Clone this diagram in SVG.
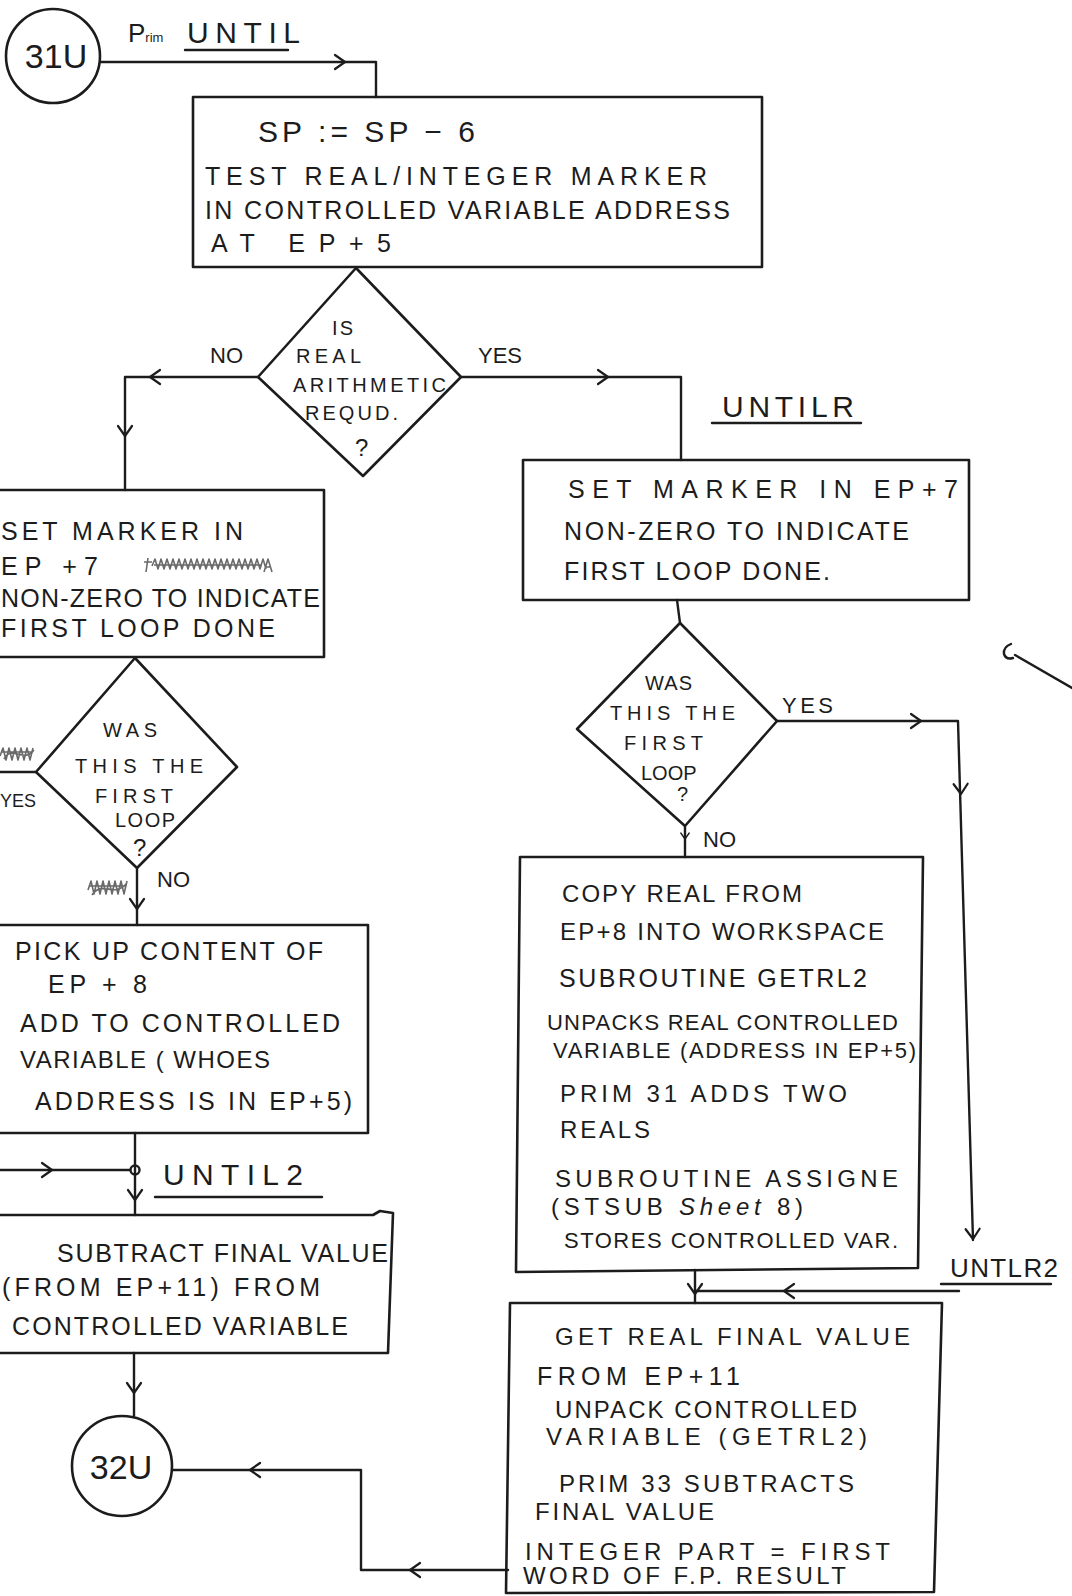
<svg xmlns="http://www.w3.org/2000/svg" xmlns:xlink="http://www.w3.org/1999/xlink" width="1072" height="1596" viewBox="0 0 1072 1596">
<style>
.ln{fill:none;stroke:#1c1c1c;stroke-width:2.4;stroke-linecap:round;stroke-linejoin:round}
.bx{fill:none;stroke:#1c1c1c;stroke-width:2.6;stroke-linejoin:round}
.ah{fill:none;stroke:#1c1c1c;stroke-width:2.2;stroke-linecap:round;stroke-linejoin:round}
.sc{fill:none;stroke:#6a6a6a;stroke-width:1.6;stroke-linejoin:round}
text{font-family:"Liberation Sans",Arial,sans-serif;font-size:25px;fill:#1c1c1c}
.s{font-size:20px}
.m{font-size:22px}
.n{font-size:24px}
.big{font-size:30px}
.c{font-size:34px;text-anchor:middle}
</style>
<defs>
<path id="ah" class="ah" d="M-10,-7 L0,0 L-10,7"/>
</defs>
<rect x="0" y="0" width="1072" height="1596" fill="#ffffff"/>

<g id="connectors">
<path class="ln" d="M100,62 H376 V97"/>
<use href="#ah" transform="translate(345,62)"/>
<path class="ln" d="M258,377 H125 V490"/>
<use href="#ah" transform="translate(150,377) rotate(180)"/>
<use href="#ah" transform="translate(125,436) rotate(90)"/>
<path class="ln" d="M461,377 H681 V460"/>
<use href="#ah" transform="translate(608,377)"/>
<path class="ln" d="M36,772 H-5"/>
<path class="ln" d="M137,868 V925"/>
<use href="#ah" transform="translate(137,909) rotate(90)"/>
<path class="ln" d="M135,1133 V1215"/>
<use href="#ah" transform="translate(135,1200) rotate(90)"/>
<path class="ln" d="M-5,1170 H130"/>
<use href="#ah" transform="translate(52,1170)"/>
<circle class="ln" cx="135" cy="1170" r="4.5" fill="#fff"/>
<path class="ln" d="M134,1353 V1416"/>
<use href="#ah" transform="translate(134,1393) rotate(90)"/>
<path class="ln" d="M508,1570 H361 V1470 H172"/>
<use href="#ah" transform="translate(410,1570) rotate(180)"/>
<use href="#ah" transform="translate(250,1470) rotate(180)"/>
<path class="ln" d="M677,600 L680,623"/>
<path class="ln" d="M685,826 V857"/>
<use href="#ah" transform="translate(685,839) rotate(90) scale(0.6)"/>
<path class="ln" d="M777,721 H958 L973,1240"/>
<use href="#ah" transform="translate(921,721)"/>
<use href="#ah" transform="translate(961,794) rotate(88)"/>
<use href="#ah" transform="translate(973,1239) rotate(88)"/>
<path class="ln" d="M959,1291 H695"/>
<use href="#ah" transform="translate(784,1291) rotate(180)"/>
<path class="ln" d="M695,1270 V1303"/>
<use href="#ah" transform="translate(695,1294) rotate(90)"/>
<path class="ln" d="M1015,655 L1072,688"/>
<path class="ln" d="M1011,644 Q1003,647 1004,654 Q1006,660 1013,658"/>
</g>

<g id="n31U">
<circle class="bx" cx="53" cy="56" r="47"/>
<text class="c" x="56" y="68">31U</text>
</g>

<g id="labelUNTIL">
<text x="128" y="42"><tspan style="font-size:26px">P</tspan><tspan style="font-size:13px">rim</tspan></text>
<text class="big" x="187" y="43" textLength="113">UNTIL</text>
<path class="ln" d="M185,50 H288"/>
</g>

<g id="box1">
<rect class="bx" x="193" y="97" width="569" height="170"/>
<text x="258" y="142" style="font-size:30px" textLength="217">SP := SP − 6</text>
<text x="205" y="185" textLength="502">TEST REAL/INTEGER MARKER</text>
<text x="205" y="219" textLength="525">IN CONTROLLED VARIABLE ADDRESS</text>
<text x="211" y="252" textLength="180">AT EP+5</text>
</g>

<g id="dec1">
<polygon class="bx" points="356,268 461,377 363,476 258,377"/>
<text class="s" x="332" y="335" textLength="21">IS</text>
<text class="s" x="296" y="363" textLength="65">REAL</text>
<text class="s" x="293" y="392" textLength="153">ARITHMETIC</text>
<text class="s" x="305" y="420" textLength="93">REQUD.</text>
<text class="n" x="355" y="456">?</text>
<text class="m" x="210" y="363">NO</text>
<text class="m" x="478" y="363">YES</text>
</g>

<g id="box2">
<rect class="bx" x="-10" y="490" width="334" height="167"/>
<text x="1" y="540" textLength="242">SET MARKER IN</text>
<text x="1" y="575" textLength="97">EP +7</text>
<path class="sc" d="M146,572 L148,558 M144,562 H152 M152,566 l3,-7 l3,10 l3,-10 l3,10 l3,-10 l3,10 l3,-10 l3,10 l3,-10 l3,10 l3,-10 l3,10 l3,-10 l3,10 l3,-10 l3,10 l3,-10 l3,10 l3,-10 l3,10 l3,-10 l3,10 l3,-10 l3,10 l3,-10 l3,10 l3,-10 l3,10 l3,-10 l3,10 l3,-10 l3,10 l3,-10 l3,10 l3,-10 l3,10 l3,-10 l3,10 M154,565 H262 M264,572 l4,-13 l4,13 M265,567 h6"/>
<text x="1" y="607" textLength="319">NON-ZERO TO INDICATE</text>
<text x="1" y="637" textLength="274">FIRST LOOP DONE</text>
</g>

<g id="dec2">
<polygon class="bx" points="135,658 237,767 137,868 36,772"/>
<text class="s" x="103" y="737" textLength="54">WAS</text>
<text class="s" x="75" y="773" textLength="128">THIS THE</text>
<text class="s" x="95" y="803" textLength="78">FIRST</text>
<text class="s" x="115" y="827" textLength="60">LOOP</text>
<text class="n" x="133" y="856">?</text>
<path class="sc" d="M0,756 l3,-8 l3,12 l3,-12 l3,12 l3,-12 l3,12 l3,-12 l3,12 l3,-12 l3,12 l3,-12 M2,752 H33 M4,759 C12,744 24,764 34,750"/>
<text x="0" y="807" style="font-size:18px">YES</text>
<path class="sc" d="M88,890 l3,-9 l3,13 l3,-13 l3,13 l3,-13 l3,13 l3,-13 l3,13 l3,-13 l3,13 l3,-13 l3,13 l3,-13 M90,886 H126 M92,895 C102,880 114,898 126,884"/>
<text class="m" x="157" y="887">NO</text>
</g>

<g id="box3">
<rect class="bx" x="-10" y="925" width="378" height="208"/>
<text x="15" y="960" textLength="308">PICK UP CONTENT OF</text>
<text x="48" y="993" textLength="99">EP + 8</text>
<text x="20" y="1032" textLength="320">ADD TO CONTROLLED</text>
<text class="n" x="20" y="1068" textLength="250">VARIABLE ( WHOES</text>
<text x="35" y="1110" textLength="317">ADDRESS IS IN EP+5)</text>
</g>

<g id="labelUNTIL2">
<text class="big" x="163" y="1185" textLength="140">UNTIL2</text>
<path class="ln" d="M155,1197 H322"/>
</g>

<g id="box4">
<path class="bx" d="M-10,1215 H373 L380,1211 L393,1213 L388,1353 H-10"/>
<text x="57" y="1262" textLength="331">SUBTRACT FINAL VALUE</text>
<text x="2" y="1296" textLength="318">(FROM EP+11) FROM</text>
<text x="12" y="1335" textLength="336">CONTROLLED VARIABLE</text>
</g>

<g id="n32U">
<circle class="bx" cx="122" cy="1466" r="50"/>
<text class="c" x="121" y="1479">32U</text>
</g>

<g id="labelUNTILR">
<text class="big" x="722" y="417" textLength="132">UNTILR</text>
<path class="ln" d="M712,423 H861"/>
</g>

<g id="boxR1">
<rect class="bx" x="523" y="460" width="446" height="140"/>
<text x="568" y="498" textLength="390">SET MARKER IN EP+7</text>
<text x="564" y="540" textLength="345">NON-ZERO TO INDICATE</text>
<text x="564" y="580" textLength="266">FIRST LOOP DONE.</text>
</g>

<g id="decR">
<polygon class="bx" points="680,623 777,721 685,826 577,729"/>
<text class="s" x="645" y="690" textLength="47">WAS</text>
<text class="s" x="610" y="720" textLength="125">THIS THE</text>
<text class="s" x="624" y="750" textLength="79">FIRST</text>
<text class="s" x="641" y="780">LOOP</text>
<text class="s" x="677" y="801">?</text>
<text class="m" x="782" y="713" textLength="51">YES</text>
<text class="m" x="703" y="847">NO</text>
</g>

<g id="boxR2">
<path class="bx" d="M520,857 H923 L918,1268 L516,1272 Z"/>
<text class="n" x="562" y="902" textLength="240">COPY REAL FROM</text>
<text class="n" x="560" y="940" textLength="324">EP+8 INTO WORKSPACE</text>
<text x="559" y="987" textLength="308">SUBROUTINE GETRL2</text>
<text class="m" x="547" y="1030" textLength="351">UNPACKS REAL CONTROLLED</text>
<text class="m" x="553" y="1058" textLength="363">VARIABLE (ADDRESS IN EP+5)</text>
<text class="n" x="560" y="1102" textLength="287">PRIM 31 ADDS TWO</text>
<text class="n" x="560" y="1138" textLength="90">REALS</text>
<text class="n" x="555" y="1187" textLength="343">SUBROUTINE ASSIGNE</text>
<text class="n" x="551" y="1215" textLength="252">(STSUB <tspan font-style="italic">Sheet</tspan> 8)</text>
<text class="m" x="564" y="1248" textLength="334">STORES CONTROLLED VAR.</text>
</g>

<g id="labelUNTLR2">
<text style="font-size:26px" x="950" y="1277" textLength="108">UNTLR2</text>
<path class="ln" d="M941,1284 H1051"/>
</g>

<g id="boxR3">
<path class="bx" d="M510,1303 H942 L934,1592 L506,1593 Z"/>
<text class="n" x="555" y="1345" textLength="355">GET REAL FINAL VALUE</text>
<text x="537" y="1385" textLength="203">FROM EP+11</text>
<text class="n" x="555" y="1418" textLength="302">UNPACK CONTROLLED</text>
<text class="n" x="546" y="1445" textLength="321">VARIABLE (GETRL2)</text>
<text class="n" x="559" y="1492" textLength="295">PRIM 33 SUBTRACTS</text>
<text class="n" x="535" y="1520" textLength="179">FINAL VALUE</text>
<text class="n" x="525" y="1560" textLength="365">INTEGER PART = FIRST</text>
<text class="n" x="523" y="1584" textLength="323">WORD OF F.P. RESULT</text>
</g>
</svg>
